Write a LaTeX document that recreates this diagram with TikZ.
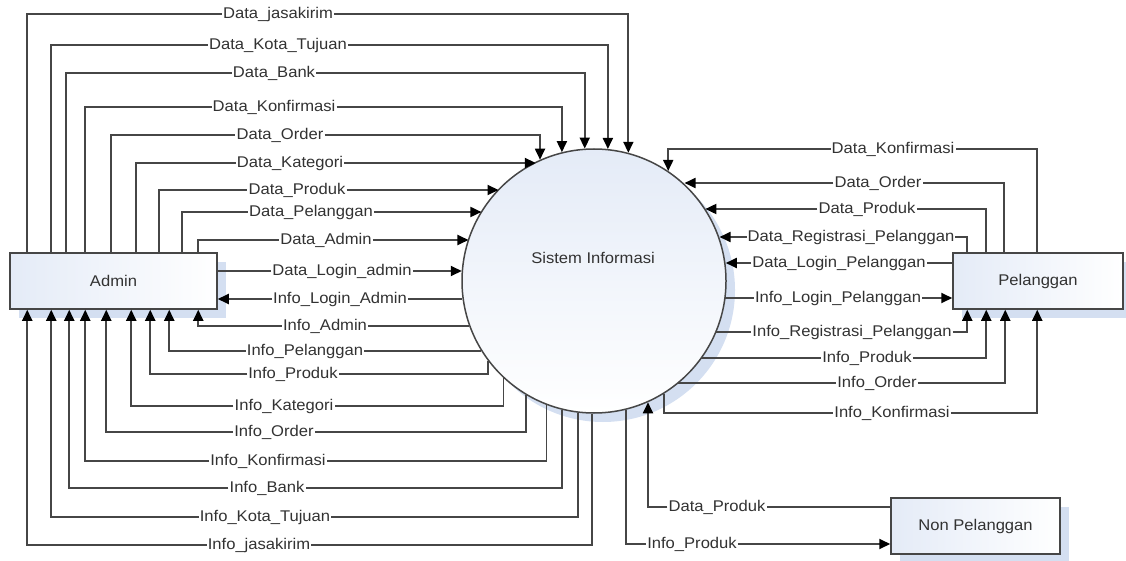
\documentclass[tikz,border=0pt]{standalone}
\usepackage{fontspec}
\newfontfamily\dfdfont{Liberation Sans}[FakeStretch=1.07]
\usepackage{tikz}
\usetikzlibrary{arrows.meta, shapes.geometric, shadows, positioning}
\definecolor{linegray}{RGB}{70,70,70}
\definecolor{textgray}{RGB}{50,50,50}
\definecolor{fillblue}{RGB}{228,235,247}
\definecolor{shadowblue}{RGB}{212,223,241}
\tikzstyle{entity} = [rectangle, draw=linegray, line width=1.5pt, left color=fillblue, right color=white, text=textgray, font=\dfdfont\fontsize{15.5}{18}\selectfont, drop shadow={shadow xshift=9pt, shadow yshift=-9pt, fill=shadowblue, opacity=1}]
\tikzstyle{process} = [circle, minimum size=264pt, inner sep=0pt, draw=linegray, line width=1.5pt, shading angle=135, top color=fillblue, bottom color=white, drop shadow={shadow xshift=9pt, shadow yshift=-9pt, fill=shadowblue, opacity=1}]
\tikzstyle{flow} = [draw=linegray, line width=1.8pt, -{Triangle[length=11pt, width=10pt, color=black]}]
\tikzstyle{lbl} = [fill=white, inner sep=1pt, text=textgray, font=\dfdfont\fontsize{15.5}{18}\selectfont]

\begin{document}
\begin{tikzpicture}[x=1pt, y=-1pt]
\useasboundingbox (0,0) rectangle (1126,561);
% entities and process
\node (admin) [entity, minimum width=207pt, minimum height=56pt] at (113.5,281) {Admin};
\node (pel) [entity, minimum width=170pt, minimum height=56pt] at (1038,281) {Pelanggan};
\node (np) [entity, minimum width=169pt, minimum height=56pt] at (975.5,526) {Non Pelanggan};
\node (sys) [process] at (594,281) {};
\node (sysText) [lbl, fill=none] at (593,258) {Sistem Informasi};

% labels, admin side
\node (dJasa) [lbl] at (278,14) {Data\_jasakirim};
\node (dKota) [lbl] at (278,45) {Data\_Kota\_Tujuan};
\node (dBank) [lbl] at (274,73) {Data\_Bank};
\node (dKonf) [lbl] at (274,107) {Data\_Konfirmasi};
\node (dOrder) [lbl] at (280,135) {Data\_Order};
\node (dKat) [lbl] at (290,163) {Data\_Kategori};
\node (dProduk) [lbl] at (297,190) {Data\_Produk};
\node (dPel) [lbl] at (311,212) {Data\_Pelanggan};
\node (dAdmin) [lbl] at (326,240) {Data\_Admin};
\node (dLogin) [lbl] at (342,271) {Data\_Login\_admin};
\node (iLogin) [lbl] at (340,299) {Info\_Login\_Admin};
\node (iAdmin) [lbl] at (325,326) {Info\_Admin};
\node (iPel) [lbl] at (305,351) {Info\_Pelanggan};
\node (iProduk) [lbl] at (293,374) {Info\_Produk};
\node (iKat) [lbl] at (284,406) {Info\_Kategori};
\node (iOrder) [lbl] at (274,432) {Info\_Order};
\node (iKonf) [lbl] at (268,461) {Info\_Konfirmasi};
\node (iBank) [lbl] at (267,488) {Info\_Bank};
\node (iKota) [lbl] at (265,517) {Info\_Kota\_Tujuan};
\node (iJasa) [lbl] at (259,545) {Info\_jasakirim};

% labels, pelanggan side
\node (pdKonf) [lbl] at (893,149) {Data\_Konfirmasi};
\node (pdOrder) [lbl] at (878,183) {Data\_Order};
\node (pdProduk) [lbl] at (867,209) {Data\_Produk};
\node (pdReg) [lbl] at (851,237) {Data\_Registrasi\_Pelanggan};
\node (pdLogin) [lbl] at (839,263) {Data\_Login\_Pelanggan};
\node (piLogin) [lbl] at (838,298) {Info\_Login\_Pelanggan};
\node (piReg) [lbl] at (852,332) {Info\_Registrasi\_Pelanggan};
\node (piProduk) [lbl] at (867,358) {Info\_Produk};
\node (piOrder) [lbl] at (877,383) {Info\_Order};
\node (piKonf) [lbl] at (892,413) {Info\_Konfirmasi};

% labels, non pelanggan
\node (ndProduk) [lbl] at (717,507) {Data\_Produk};
\node (niProduk) [lbl] at (692,544) {Info\_Produk};

% admin -> sistem
\draw [flow] ([xshift=18]admin.north west) |- (dJasa) -| (sys.75.1);
\draw [flow] ([xshift=42]admin.north west) |- (dKota) -| (sys.84.3);
\draw [flow] ([xshift=57]admin.north west) |- (dBank) -| (sys.94.8);
\draw [flow] ([xshift=76]admin.north west) |- (dKonf) -| (sys.104);
\draw [flow] ([xshift=102]admin.north west) |- (dOrder) -| (sys.114.1);
\draw [flow] ([xshift=127]admin.north west) |- (dKat) -- (dKat -| sys.116.6);
\draw [flow] ([xshift=150]admin.north west) |- (dProduk) -- (dProduk -| sys.136.4);
\draw [flow] ([xshift=173]admin.north west) |- (dPel) -- (dPel -| sys.148.5);
\draw [flow] ([xshift=189]admin.north west) |- (dAdmin) -- (dAdmin -| sys.161.9);
\draw [flow] (admin.east |- dLogin) -- (dLogin) -- (dLogin -| sys.175.7);

% sistem -> admin
\draw [flow] (iLogin -| sys.187.8) -- (iLogin) -- (iLogin -| admin.east);
\draw [flow] (iAdmin -| sys.200) -- (iAdmin) -| ([xshift=189]admin.south west);
\draw [flow] (iPel -| sys.212) -- (iPel) -| ([xshift=160]admin.south west);
\draw [flow] (sys.217.3) |- (iProduk) -| ([xshift=141]admin.south west);
\draw [flow] (sys.227.6) |- (iKat) -| ([xshift=122]admin.south west);
\draw [flow] (sys.239) |- (iOrder) -| ([xshift=97]admin.south west);
\draw [flow] (sys.249.1) |- (iKonf) -| ([xshift=76]admin.south west);
\draw [flow] (sys.256) |- (iBank) -| ([xshift=60]admin.south west);
\draw [flow] (sys.263) |- (iKota) -| ([xshift=42]admin.south west);
\draw [flow] (sys.269.1) |- (iJasa) -| ([xshift=18]admin.south west);

% pelanggan -> sistem
\draw [flow] ([xshift=85]pel.north west) |- (pdKonf) -| (sys.56.4);
\draw [flow] ([xshift=52]pel.north west) |- (pdOrder) -- (pdOrder -| sys.47.9);
\draw [flow] ([xshift=34]pel.north west) |- (pdProduk) -- (pdProduk -| sys.33.1);
\draw [flow] ([xshift=15]pel.north west) |- (pdReg) -- (pdReg -| sys.19.5);
\draw [flow] (pel.west |- pdLogin) -- (pdLogin) -- (pdLogin -| sys.7.8);

% sistem -> pelanggan
\draw [flow] (piLogin -| sys.352.6) -- (piLogin) -- (piLogin -| pel.west);
\draw [flow] (piReg -| sys.337.3) -- (piReg) -| ([xshift=15]pel.south west);
\draw [flow] (piProduk -| sys.324.3) -- (piProduk) -| ([xshift=34]pel.south west);
\draw [flow] (piOrder -| sys.309.4) -- (piOrder) -| ([xshift=53]pel.south west);
\draw [flow] (sys.302.5) |- (piKonf) -| ([xshift=85]pel.south west);

% non pelanggan
\draw [flow] (np.west |- ndProduk) -- (ndProduk) -| (sys.294.6);
\draw [flow] (sys.284.9) |- (niProduk) -- (niProduk -| np.west);
\end{tikzpicture}
\end{document}
